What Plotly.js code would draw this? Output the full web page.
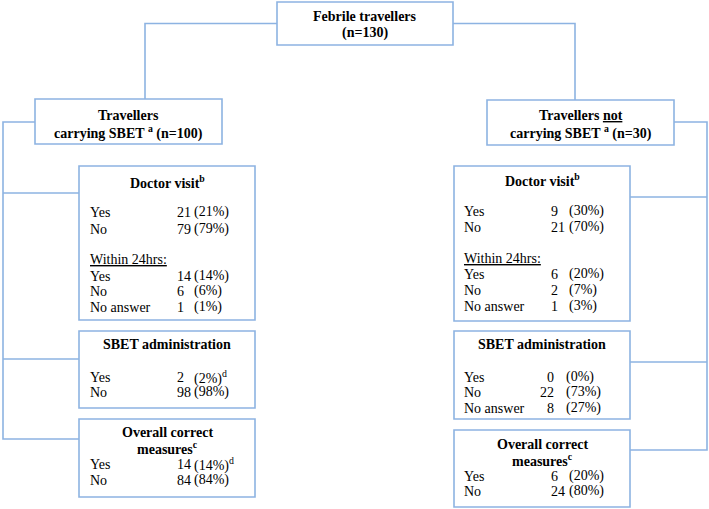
<!DOCTYPE html>
<html><head><meta charset="utf-8">
<script src="https://cdn.plot.ly/plotly-3.0.1.min.js"></script>
<style>body{margin:0;background:#fff}#chart{width:709px;height:509px}</style>
</head><body><div id="chart"></div>
<script>
// ---------- data ----------
const rootLabel = "Febrile travellers";
const rootN = 130;
const groupLabels = ["Travellers", "Travellers <u>not</u>"];
const groupSubLabel = "carrying SBET";
const groupN = [100, 30];
const groupNote = "a";

const doctorTitle = "Doctor visit<sup>b</sup>";
const sbetTitle = "SBET administration";
const overallTitle = ["Overall correct", "measures<sup>c</sup>"];
const within24Label = "Within 24hrs:";

const leftDoctorRows = ["Yes", "No", "Yes", "No", "No answer"];
const leftDoctorCounts = [21, 79, 14, 6, 1];
const leftDoctorPct = [21, 79, 14, 6, 1];

const rightDoctorRows = ["Yes", "No", "Yes", "No", "No answer"];
const rightDoctorCounts = [9, 21, 6, 2, 1];
const rightDoctorPct = [30, 70, 20, 7, 3];

const leftSbetRows = ["Yes", "No"];
const leftSbetCounts = [2, 98];
const leftSbetPct = [2, 98];
const leftSbetNotes = ["d", ""];

const rightSbetRows = ["Yes", "No", "No answer"];
const rightSbetCounts = [0, 22, 8];
const rightSbetPct = [0, 73, 27];

const leftOverallRows = ["Yes", "No"];
const leftOverallCounts = [14, 84];
const leftOverallPct = [14, 84];
const leftOverallNotes = ["d", ""];

const rightOverallRows = ["Yes", "No"];
const rightOverallCounts = [6, 24];
const rightOverallPct = [20, 80];

// ---------- layout helpers ----------
const LINE = "#8db3e2";
const FONT = "Liberation Serif, Times New Roman, serif";
const FS = 14;
const shapes = [];
const ann = [];

function rect(x0, y0, x1, y1) {
  shapes.push({type: "rect", xref: "x", yref: "y", x0, y0, x1, y1,
    line: {color: LINE, width: 1.6}, fillcolor: "rgba(0,0,0,0)"});
}
function path(pts) {
  let d = "M" + pts.map(p => p[0] + "," + p[1]).join(" L");
  shapes.push({type: "path", xref: "x", yref: "y", path: d,
    line: {color: LINE, width: 1.6}});
}
function txt(x, y, text, anchor, bold) {
  ann.push({x, y, xref: "x", yref: "y", text: bold ? "<b>" + text + "</b>" : text,
    showarrow: false, xanchor: anchor || "left", yanchor: "middle",
    font: {family: FONT, size: FS, color: "#000"}});
}
function rows(labels, counts, pcts, ys, xl, xc, xp, notes, countAnchor) {
  labels.forEach((l, i) => {
    txt(xl, ys[i], l);
    txt(xc, ys[i], String(counts[i]), countAnchor || "left");
    const n = notes && notes[i] ? "<sup>" + notes[i] + "</sup>" : "";
    txt(xp, ys[i], "(" + pcts[i] + "%)" + n);
  });
}

// boxes
rect(277, 2, 453, 45);
rect(35, 99, 222, 144);
rect(487, 100, 674, 145);
rect(79, 166, 255, 320);
rect(79, 331, 255, 408);
rect(79, 419, 255, 497);
rect(454, 166, 630, 321);
rect(454, 331, 630, 419);
rect(454, 430, 630, 507);

// connectors
path([[277, 23.5], [145, 23.5], [145, 99]]);
path([[453, 23.5], [575, 23.5], [575, 100]]);
path([[35, 122], [3, 122], [3, 439], [79, 439]]);
path([[3, 193], [79, 193]]);
path([[3, 359], [79, 359]]);
path([[674, 122], [707, 122], [707, 450], [630, 450]]);
path([[707, 197], [630, 197]]);
path([[707, 362], [630, 362]]);

// root
txt(365, 16, rootLabel, "center", true);
txt(365, 33, "(n=" + rootN + ")", "center", true);
// groups
txt(128.5, 115, groupLabels[0], "center", true);
txt(128.5, 132, groupSubLabel + " <sup>" + groupNote + "</sup> (n=" + groupN[0] + ")", "center", true);
txt(580.5, 115, groupLabels[1], "center", true);
txt(580.5, 132, groupSubLabel + " <sup>" + groupNote + "</sup> (n=" + groupN[1] + ")", "center", true);

// left doctor
txt(167, 182, doctorTitle, "center", true);
txt(88, 259, "<u>" + within24Label + "</u>");
rows(leftDoctorRows, leftDoctorCounts, leftDoctorPct, [212, 229, 276, 291, 307], 88, 175, 192);
// right doctor
txt(542, 180, doctorTitle, "center", true);
txt(462, 258, "<u>" + within24Label + "</u>");
rows(rightDoctorRows, rightDoctorCounts, rightDoctorPct, [211, 227, 274, 290, 306], 462, 549, 567);

// left sbet
txt(167, 344, sbetTitle, "center", true);
rows(leftSbetRows, leftSbetCounts, leftSbetPct, [377, 392], 88, 175, 192, leftSbetNotes);
// right sbet
txt(542, 344, sbetTitle, "center", true);
rows(rightSbetRows, rightSbetCounts, rightSbetPct, [377, 392, 408], 462, 556, 564, null, "right");

// left overall
txt(167, 432, overallTitle[0], "center", true);
txt(167, 448, overallTitle[1], "center", true);
rows(leftOverallRows, leftOverallCounts, leftOverallPct, [464, 480], 88, 175, 192, leftOverallNotes);
// right overall
txt(542, 444, overallTitle[0], "center", true);
txt(542, 460, overallTitle[1], "center", true);
rows(rightOverallRows, rightOverallCounts, rightOverallPct, [476, 491], 462, 549, 567);

const layout = {
  width: 709, height: 509,
  margin: {l: 0, r: 0, t: 0, b: 0},
  paper_bgcolor: "#fff", plot_bgcolor: "#fff",
  showlegend: false,
  xaxis: {range: [0, 709], visible: false, fixedrange: true},
  yaxis: {range: [509, 0], visible: false, fixedrange: true},
  shapes, annotations: ann
};
Plotly.newPlot("chart", [{x: [], y: [], type: "scatter", mode: "markers", hoverinfo: "skip"}], layout, {staticPlot: true, displayModeBar: false});
</script>
</body></html>
